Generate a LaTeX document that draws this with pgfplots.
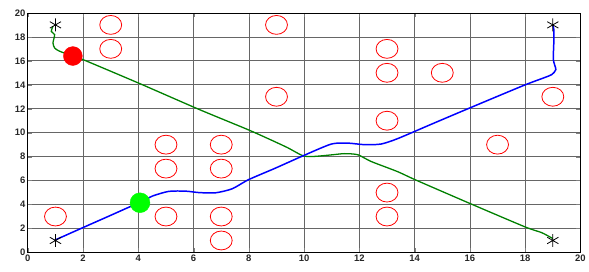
\documentclass[border=0pt]{standalone}
\usepackage{pgfplots}
\pgfplotsset{compat=1.18}
\usepackage{fontspec}
\setmainfont{Liberation Sans}
\usetikzlibrary{plotmarks}
\begin{document}
\begin{tikzpicture}[x=1pt,y=1pt]
\begin{axis}[
  scale only axis, width=556pt, height=241pt,
  xmin=0, xmax=20, ymin=0, ymax=20,
  xtick={0,2,...,20}, ytick={0,2,...,20},
  grid=major, major grid style={draw=gray!80!black, line width=0.7pt},
  tick align=inside, axis line style={black, line width=0.7pt},
  /pgf/number format/assume math mode=true,
  ticklabel style={font=\fontsize{9.5}{10}\selectfont\bfseries, text=black!85},
  xticklabel style={yshift=1pt},
  yticklabel style={xshift=1pt},
  clip=false,
]
% obstacles
\addplot[only marks, mark=o, mark size=9.5pt, mark options={draw=red, line width=0.8pt, xscale=1.16}] coordinates {
(3,19) (3,17) (9,19) (9,13) (13,17) (13,15) (15,15) (19,13) (13,11) (17,9)
(5,9) (7,9) (5,7) (7,7) (13,5) (13,3) (5,3) (7,3) (7,1) (1,3)};
% green path
\addplot[color=green!50!black, line width=1.3pt, smooth, tension=0.4] coordinates {
(0.91,18.9) (0.85,18.45) (0.97,18.18) (0.91,17.5) (0.97,17.07) (1.15,16.8) (1.63,16.4) (2.0,16.1)
(4.0,14.15) (6.19,11.95) (7.93,10.29) (8.7,9.5) (9.4,8.75) (9.96,8.07) (10.38,8.02) (11.0,8.15) (11.46,8.25)
(11.94,8.16) (12.42,7.6) (13.38,6.75) (14.04,6.05) (16.02,4.07) (18.0,2.13) (18.6,1.65) (19.0,1.16)};
% blue path
\addplot[color=blue, line width=1.5pt, smooth, tension=0.4] coordinates {
(0.97,1.02) (1.99,2.07) (3.0,3.1) (3.67,3.79) (4.06,4.15) (4.5,4.7) (5.1,5.1) (5.71,5.12) (6.19,5.0)
(6.79,4.98) (7.39,5.31) (7.99,6.08) (8.95,7.03) (9.96,8.07) (10.98,9.05) (11.58,9.13) (12.18,9.0)
(12.78,9.05) (13.38,9.5) (14.7,10.8) (16.02,12.09) (17.94,13.94) (18.7,14.6) (18.96,14.85) (19.11,15.27)
(19.02,16.1) (19.04,17.76) (19.04,18.59) (19.0,19.0)};
% start/goal markers
\addplot[only marks, mark=asterisk, mark size=6.5pt, mark options={black, line width=0.8pt}] coordinates {
(1,19) (19,19) (1,1) (19,1)};
% robots
\addplot[only marks, mark=*, mark size=9.5pt, mark options={fill=red, draw=red}] coordinates {(1.63,16.4)};
\addplot[only marks, mark=*, mark size=10pt, mark options={fill=green, draw=green}] coordinates {(4.06,4.15)};
\end{axis}
\useasboundingbox (-28pt,-19pt) rectangle (561pt,254pt);
\end{tikzpicture}
\end{document}
